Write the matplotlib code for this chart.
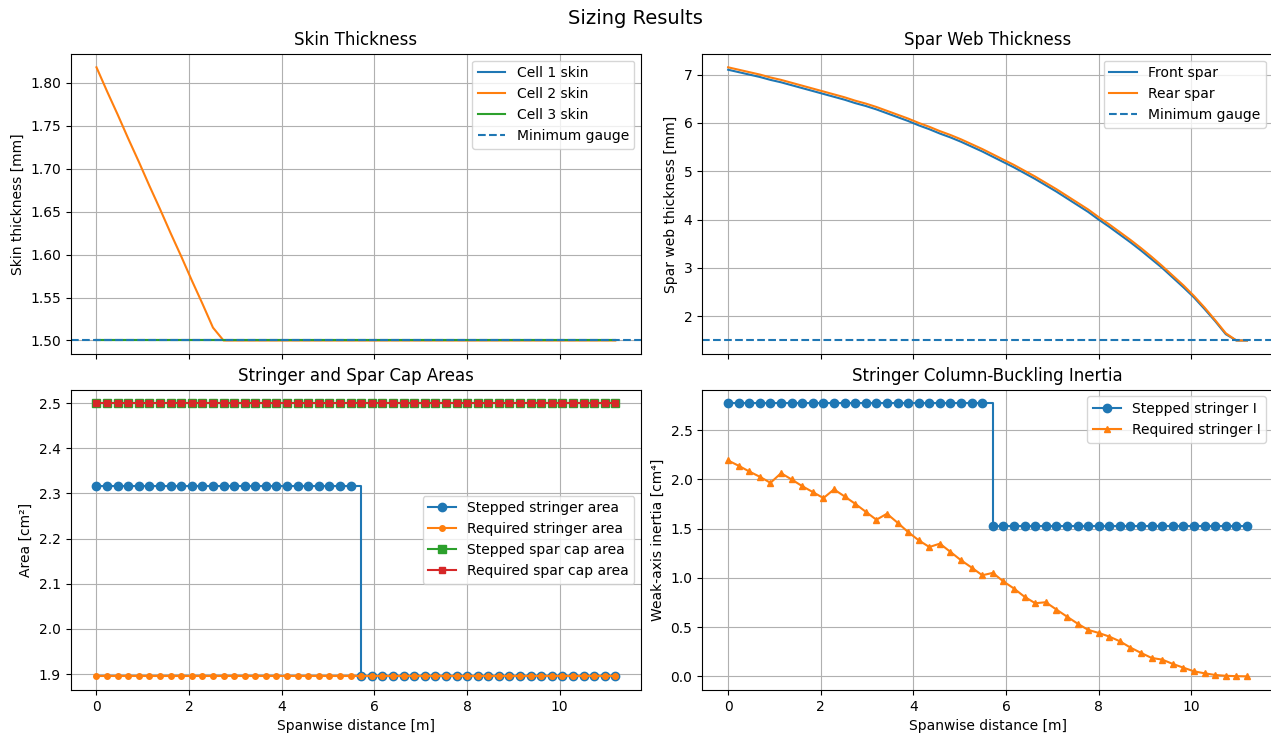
import numpy as np
import matplotlib
matplotlib.use("Agg")
import matplotlib.pyplot as plt

# Spanwise stations [m]
n_stations = 50
span_length = 11.2
spanwise_x = np.linspace(0.0, span_length, n_stations)

# Skin thickness per cell [mm]
skin_cell1 = [1.50] * 50
skin_cell2 = [1.818, 1.790, 1.763, 1.735, 1.708, 1.680, 1.653, 1.625, 1.598, 1.570,
              1.543, 1.515] + [1.50] * 38
skin_cell3 = [1.50] * 50
min_gauge = 1.5

# Spar web thickness [mm]
front_spar = [7.10, 7.05, 7.00, 6.95, 6.89, 6.84, 6.78, 6.72, 6.66, 6.60,
              6.54, 6.48, 6.41, 6.35, 6.28, 6.20, 6.12, 6.04, 5.95, 5.87,
              5.78, 5.70, 5.61, 5.51, 5.41, 5.30, 5.19, 5.08, 4.96, 4.84,
              4.71, 4.58, 4.44, 4.30, 4.16, 4.00, 3.85, 3.69, 3.53, 3.36,
              3.18, 3.00, 2.80, 2.60, 2.39, 2.15, 1.90, 1.63, 1.50, 1.50]
rear_spar = [7.15, 7.10, 7.05, 7.00, 6.94, 6.89, 6.83, 6.77, 6.71, 6.65,
             6.59, 6.53, 6.46, 6.40, 6.33, 6.25, 6.17, 6.09, 6.00, 5.92,
             5.83, 5.75, 5.66, 5.56, 5.46, 5.35, 5.24, 5.13, 5.01, 4.89,
             4.76, 4.63, 4.49, 4.35, 4.21, 4.05, 3.90, 3.74, 3.58, 3.41,
             3.23, 3.04, 2.84, 2.64, 2.42, 2.18, 1.92, 1.65, 1.50, 1.50]

# Stringer and spar cap areas [cm^2]
stepped_stringer_area = [2.317] * 25 + [1.895] * 25
required_stringer_area = [1.895] * 50
stepped_cap_area = [2.50] * 50
required_cap_area = [2.50] * 50

# Stringer weak-axis inertia [cm^4]
stepped_stringer_I = [2.775] * 25 + [1.528] * 25
required_stringer_I = [2.193, 2.139, 2.081, 2.027, 1.966, 2.064, 2.000, 1.932, 1.872, 1.811,
                       1.899, 1.828, 1.753, 1.672, 1.591, 1.652, 1.561, 1.466, 1.382, 1.314,
                       1.348, 1.264, 1.179, 1.105, 1.027, 1.051, 0.964, 0.892, 0.808, 0.743,
                       0.753, 0.679, 0.607, 0.536, 0.472, 0.441, 0.404, 0.356, 0.292, 0.238,
                       0.187, 0.170, 0.126, 0.088, 0.051, 0.031, 0.014, 0.006, 0.002, 0.000]

fig, axes = plt.subplots(2, 2, figsize=(12.71, 7.35), dpi=100, sharex=True)
fig.subplots_adjust(left=0.0555, right=1.0015, top=0.927, bottom=0.0612,
                    wspace=0.1067, hspace=0.1177)
fig.suptitle("Sizing Results", fontsize=14, y=0.9755, va="center")

ax = axes[0, 0]
ax.plot(spanwise_x, skin_cell1, label="Cell 1 skin")
ax.plot(spanwise_x, skin_cell2, label="Cell 2 skin")
ax.plot(spanwise_x, skin_cell3, label="Cell 3 skin")
ax.axhline(min_gauge, linestyle="--", label="Minimum gauge")
ax.set_title("Skin Thickness")
ax.set_ylabel("Skin thickness [mm]")
ax.grid(True)
ax.legend(loc="upper right")

ax = axes[0, 1]
ax.plot(spanwise_x, front_spar, label="Front spar")
ax.plot(spanwise_x, rear_spar, label="Rear spar")
ax.axhline(min_gauge, linestyle="--", label="Minimum gauge")
ax.set_title("Spar Web Thickness")
ax.set_ylabel("Spar web thickness [mm]")
ax.grid(True)
ax.legend(loc="upper right")

ax = axes[1, 0]
ax.plot(spanwise_x, stepped_stringer_area, "o-", drawstyle="steps-post",
        label="Stepped stringer area")
ax.plot(spanwise_x, required_stringer_area, "o-", markersize=4,
        label="Required stringer area")
ax.plot(spanwise_x, stepped_cap_area, "s-", drawstyle="steps-post",
        label="Stepped spar cap area")
ax.plot(spanwise_x, required_cap_area, "s-", markersize=4,
        label="Required spar cap area")
ax.set_title("Stringer and Spar Cap Areas")
ax.set_ylabel("Area [cm²]")
ax.set_xlabel("Spanwise distance [m]")
ax.grid(True)
ax.legend(loc="center right")

ax = axes[1, 1]
ax.plot(spanwise_x, stepped_stringer_I, "o-", drawstyle="steps-post",
        label="Stepped stringer I")
ax.plot(spanwise_x, required_stringer_I, "^-", markersize=4,
        label="Required stringer I")
ax.set_title("Stringer Column-Buckling Inertia")
ax.set_ylabel("Weak-axis inertia [cm⁴]")
ax.set_xlabel("Spanwise distance [m]")
ax.grid(True)
ax.legend(loc="upper right")

fig.savefig("out.png", dpi=100)
